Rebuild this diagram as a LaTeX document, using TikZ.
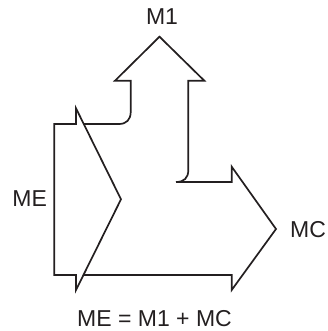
\documentclass[tikz,border=0pt]{standalone}
\usepackage{fontspec}
\setmainfont{Liberation Sans}
\definecolor{ink}{HTML}{231F20}
\begin{document}
\begin{tikzpicture}[x=1pt,y=-1pt,
  outline/.style={draw=ink,line width=1.7pt,line join=miter},
  lbl/.style={inner sep=0pt,anchor=base,text=ink,font=\fontsize{23}{27}\selectfont}]
\useasboundingbox (0,0) rectangle (328,331);
% ME arrow
\draw[outline] (54.3,124) -- (76,124) -- (76,108.3) -- (121,199.3) -- (76,290) -- (76,275) -- (54.3,275) -- cycle;
% M1 branch
\draw[outline] (83.9,124) -- (119,124) .. controls (126.5,124) and (130.7,119.5) .. (130.7,112) -- (130.7,80.7) -- (115,80.7) -- (159.5,36.7) -- (204.3,80.7) -- (188.3,80.7) -- (188.3,170) .. controls (188.3,178) and (184,182) .. (176,182);
% MC branch
\draw[outline] (176,182) -- (231.7,182) -- (231.7,166.7) -- (276,229) -- (231.7,290) -- (231.7,275) -- (83.4,275);
\node[lbl] (m1) at (162,25) {M1};
\node[lbl] (mc) at (308,237.3) {MC};
\node[lbl] (me) at (29.7,206.7) {ME};
\node[lbl] (eq) at (154.5,326) {ME = M1 + MC};
\end{tikzpicture}
\end{document}
